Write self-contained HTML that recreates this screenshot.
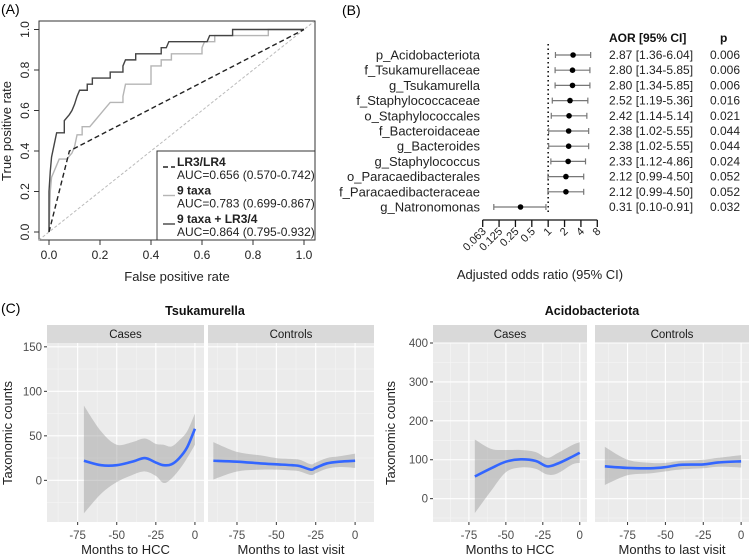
<!DOCTYPE html>
<html><head><meta charset="utf-8"><style>
body{margin:0;background:#fff;}
svg{display:block;font-family:"Liberation Sans",Arial,sans-serif;}
</style></head><body>
<svg id="fig" width="749" height="559" viewBox="0 0 749 559"></svg>
<script>
// ---------- Panel A data ----------
const rocComboX=[0,0,0.005,0.01,0.02,0.03,0.06,0.06,0.08,0.09,0.1,0.11,0.12,0.15,0.15,0.17,0.17,0.24,0.24,0.29,0.29,0.3,0.34,0.34,0.44,0.44,0.46,0.47,0.62,0.63,0.72,0.72,1];
const rocComboY=[0,0.2,0.3,0.37,0.43,0.49,0.49,0.55,0.58,0.6,0.63,0.67,0.7,0.7,0.73,0.73,0.76,0.76,0.79,0.79,0.82,0.85,0.85,0.88,0.88,0.91,0.91,0.94,0.94,0.97,0.97,1,1];
const rocTaxaX=[0,0.005,0.01,0.02,0.03,0.04,0.07,0.09,0.1,0.11,0.13,0.13,0.16,0.18,0.2,0.22,0.24,0.29,0.29,0.3,0.4,0.4,0.44,0.44,0.48,0.48,0.6,0.6,0.61,0.65,0.65,0.86,0.86,1];
const rocTaxaY=[0,0.2,0.27,0.3,0.33,0.36,0.36,0.39,0.42,0.48,0.48,0.52,0.52,0.55,0.58,0.61,0.64,0.64,0.67,0.73,0.73,0.82,0.82,0.85,0.85,0.88,0.88,0.91,0.94,0.94,0.97,0.97,1,1];
const rocLrX=[0,0.08,1];
const rocLrY=[0,0.4,1];
const rocTicks=[0,0.2,0.4,0.6,0.8,1.0];
const rocTickLabels=["0.0","0.2","0.4","0.6","0.8","1.0"];
// ---------- Panel B data ----------
const taxa=["p_Acidobacteriota","f_Tsukamurellaceae","g_Tsukamurella","f_Staphylococcaceae","o_Staphylococcales","f_Bacteroidaceae","g_Bacteroides","g_Staphylococcus","o_Paracaedibacterales","f_Paracaedibacteraceae","g_Natronomonas"];
const aor=[2.87,2.80,2.80,2.52,2.42,2.38,2.38,2.33,2.12,2.12,0.31];
const ciLow=[1.36,1.34,1.34,1.19,1.14,1.02,1.02,1.12,0.99,0.99,0.10];
const ciHigh=[6.04,5.85,5.85,5.36,5.14,5.55,5.55,4.86,4.50,4.50,0.91];
const pvals=["0.006","0.006","0.006","0.016","0.021","0.044","0.044","0.024","0.052","0.052","0.032"];
const orTicks=[0.0625,0.125,0.25,0.5,1,2,4,8];
const orTickLabels=["0.063","0.125","0.25","0.5","1","2","4","8"];
// ---------- Panel C data ----------
const tsuCasesX=[-71,-60,-50,-40,-32,-25,-20,-15,-10,-5,0];
const tsuCasesY=[22,17,17,21,25,20,17,18,25,37,58];
const tsuCasesLo=[-37,-15,-2,6,10,5,-3,2,12,25,40];
const tsuCasesHi=[84,55,40,43,47,41,40,38,45,55,75];
const tsuCtrlX=[-90,-75,-60,-50,-40,-35,-28,-25,-18,-10,0];
const tsuCtrlY=[22,21,19,18,17,16,12,14,19,21,22];
const tsuCtrlLo=[1,10,12,12,11,10,6,8,13,15,14];
const tsuCtrlHi=[43,32,28,25,24,23,18,20,25,27,30];
const acCasesX=[-71,-60,-50,-40,-30,-22,-15,-5,0];
const acCasesY=[57,78,95,101,97,83,90,108,118];
const acCasesLo=[-37,20,68,80,77,62,65,88,92];
const acCasesHi=[152,128,125,125,120,105,117,138,145];
const acCtrlX=[-90,-75,-60,-50,-40,-25,-15,0];
const acCtrlY=[83,79,78,81,87,88,93,96];
const acCtrlLo=[35,60,65,70,75,78,82,80];
const acCtrlHi=[133,100,92,92,97,100,105,112];
const monthTicks=[-75,-50,-25,0];
const tsuYTicks=[0,50,100,150];
const acYTicks=[0,100,200,300,400];

const NS="http://www.w3.org/2000/svg";
const svg=document.getElementById('fig');
function mk(tag,attrs,parent,text){const e=document.createElementNS(NS,tag);for(const k in attrs)e.setAttribute(k,attrs[k]);if(text!==undefined)e.textContent=text;(parent||svg).appendChild(e);return e;}

let t;
t=mk('text',{x:1,y:14,'font-size':14},svg,'(A)');


t=mk('text',{x:342,y:15,'font-size':14},svg,'(B)');


t=mk('text',{x:1,y:313,'font-size':14},svg,'(C)');



// ===== Panel A =====
const gA=mk('g',{});


const ax=v=>49+v*255, ay=v=>232-v*202.5;
let e=mk('rect',{x:39,y:21,width:276,height:219,fill:'none',stroke:'#333','stroke-width':1},gA);


e=mk('line',{x1:ax(-0.04),y1:ay(-0.04),x2:ax(1.04),y2:ay(1.04),stroke:'#bbb','stroke-width':1,'stroke-dasharray':'3,2'},gA);


function poly(xs,ys,attrs,name){const pts=xs.map((x,i)=>ax(x)+','+ay(ys[i])).join(' ');const p=mk('polyline',Object.assign({points:pts,fill:'none'},attrs),gA);return p;}
poly(rocTaxaX,rocTaxaY,{stroke:'#b5b5b5','stroke-width':1.4},'roc-9-taxa');
poly(rocComboX,rocComboY,{stroke:'#444','stroke-width':1.4},'roc-9-taxa-lr');
poly(rocLrX,rocLrY,{stroke:'#222','stroke-width':1.4,'stroke-dasharray':'5,3'},'roc-lr3-lr4');
rocTicks.forEach((v,i)=>{
  e=mk('line',{x1:ax(v),y1:240,x2:ax(v),y2:245,stroke:'#333'},gA);
  
  
  e=mk('text',{x:ax(v),y:259,'font-size':12,'text-anchor':'middle',fill:'#222'},gA,rocTickLabels[i]);
  
  
  e=mk('line',{x1:34,y1:ay(v),x2:39,y2:ay(v),stroke:'#333'},gA);
  
  
  e=mk('text',{x:0,y:0,'font-size':12,'text-anchor':'middle',fill:'#222',transform:`translate(29,${ay(v)}) rotate(-90)`},gA,rocTickLabels[i]);
  
  
});
e=mk('text',{x:177,y:281,'font-size':13,'text-anchor':'middle',fill:'#222'},gA,'False positive rate');


e=mk('text',{x:0,y:0,'font-size':13,'text-anchor':'middle',fill:'#222',transform:'translate(11,131) rotate(-90)'},gA,'True positive rate');


const lg=mk('g',{},gA);


mk('rect',{x:157,y:151,width:158,height:89,fill:'#fff',stroke:'#333'},lg);
const legItems=[["LR3/LR4","AUC=0.656 (0.570-0.742)",'#222','5,3'],["9 taxa","AUC=0.783 (0.699-0.867)",'#b5b5b5',''],["9 taxa + LR3/4","AUC=0.864 (0.795-0.932)",'#444','']];
legItems.forEach((it,i)=>{
  const y0=162+i*28.5;
  e=mk('line',{x1:163,y1:y0+5,x2:175,y2:y0+5,stroke:it[2],'stroke-width':1.4,'stroke-dasharray':it[3]},lg);
  
  
  e=mk('text',{x:177,y:y0+4,'font-size':12,'font-weight':'bold',fill:'#222'},lg,it[0]);
  
  
  e=mk('text',{x:177,y:y0+17,'font-size':12,fill:'#222'},lg,it[1]);
  
  
});

// ===== Panel B =====
const gB=mk('g',{});


const bx=v=>482.7+(Math.log2(v)+4)*16.37;
const by=i=>55+i*15.2;
e=mk('line',{x1:bx(1),y1:44,x2:bx(1),y2:214,stroke:'#111','stroke-width':1.6,'stroke-dasharray':'1.5,3'},gB);


e=mk('text',{x:609,y:42,'font-size':12,'font-weight':'bold',fill:'#111'},gB,'AOR [95% CI]');


e=mk('text',{x:720,y:42,'font-size':12,'font-weight':'bold',fill:'#111'},gB,'p');


taxa.forEach((n,i)=>{
  const y=by(i);
  e=mk('text',{x:480,y:y+4.5,'font-size':13,'text-anchor':'end',fill:'#222'},gB,n);
  
  
  e=mk('line',{x1:bx(ciLow[i]),y1:y,x2:bx(ciHigh[i]),y2:y,stroke:'#777','stroke-width':1.2},gB);
  
  
  [ciLow[i],ciHigh[i]].forEach(v=>{
    e=mk('line',{x1:bx(v),y1:y-3,x2:bx(v),y2:y+3,stroke:'#777','stroke-width':1.2},gB);
    
    
  });
  e=mk('circle',{cx:bx(aor[i]),cy:y,r:2.8,fill:'#000'},gB);
  
  
  e=mk('text',{x:609,y:y+4,'font-size':12,fill:'#222'},gB,`${aor[i].toFixed(2)} [${ciLow[i].toFixed(2)}-${ciHigh[i].toFixed(2)}]`);
  
  
  e=mk('text',{x:710,y:y+4,'font-size':12,fill:'#222'},gB,pvals[i]);
  
  
});
e=mk('line',{x1:bx(0.0625),y1:220,x2:bx(8),y2:220,stroke:'#111','stroke-width':1.3},gB);


orTicks.forEach((v,i)=>{
  e=mk('line',{x1:bx(v),y1:220,x2:bx(v),y2:227,stroke:'#111','stroke-width':1.3},gB);
  
  
  e=mk('text',{x:0,y:0,'font-size':11,'text-anchor':'end',fill:'#222',transform:`translate(${bx(v)+4},${232}) rotate(-45)`},gB,orTickLabels[i]);
  
  
});
e=mk('text',{x:540,y:279,'font-size':13,'text-anchor':'middle',fill:'#222'},gB,'Adjusted odds ratio (95% CI)');



// ===== Panel C =====
function smoothPath(pts){let d=`M${pts[0][0]},${pts[0][1]}`;for(let i=0;i<pts.length-1;i++){const p0=pts[Math.max(0,i-1)],p1=pts[i],p2=pts[i+1],p3=pts[Math.min(pts.length-1,i+2)];const c1=[p1[0]+(p2[0]-p0[0])/6,p1[1]+(p2[1]-p0[1])/6],c2=[p2[0]-(p3[0]-p1[0])/6,p2[1]-(p3[1]-p1[1])/6];d+=` C${c1[0]},${c1[1]} ${c2[0]},${c2[1]} ${p2[0]},${p2[1]}`;}return d;}
function facet(g,cfg){
  const {x0,x1,top,bot,xmin,xmax,ymin,ymax,yTicks,yMinor,label,xs,ys,lo,hi,name}=cfg;
  const fx=v=>x0+(v-xmin)/(xmax-xmin)*(x1-x0), fy=v=>bot-(v-ymin)/(ymax-ymin)*(bot-top-18);
  const f=mk('g',{},g);
  
  
  e=mk('rect',{x:x0,y:top,width:x1-x0,height:18,fill:'#d9d9d9'},f);
  
  
  e=mk('text',{x:(x0+x1)/2,y:top+13,'font-size':11.5,'text-anchor':'middle',fill:'#1a1a1a'},f,label);
  
  
  e=mk('rect',{x:x0,y:top+18,width:x1-x0,height:bot-top-18,fill:'#ebebeb'},f);
  
  
  [-87.5,-62.5,-37.5,-12.5].forEach(v=>{if(v>xmin&&v<xmax)mk('line',{x1:fx(v),y1:top+18,x2:fx(v),y2:bot,stroke:'#f5f5f5','stroke-width':0.6},f);});
  yMinor.forEach(v=>{mk('line',{x1:x0,y1:fy(v),x2:x1,y2:fy(v),stroke:'#f5f5f5','stroke-width':0.6},f);});
  monthTicks.forEach(v=>{mk('line',{x1:fx(v),y1:top+18,x2:fx(v),y2:bot,stroke:'#fff','stroke-width':1.1},f);
    mk('line',{x1:fx(v),y1:bot,x2:fx(v),y2:bot+3,stroke:'#333'},f);
    e=mk('text',{x:fx(v),y:bot+17,'font-size':11.5,'text-anchor':'middle',fill:'#4d4d4d'},f,String(v));
    
    });
  yTicks.forEach(v=>{mk('line',{x1:x0,y1:fy(v),x2:x1,y2:fy(v),stroke:'#fff','stroke-width':1.1},f);});
  const band=xs.map((x,i)=>[fx(x),fy(hi[i])]);
  const bandLo=xs.map((x,i)=>[fx(x),fy(lo[i])]).reverse();
  let d=smoothPath(band);const dl=smoothPath(bandLo);d+=' L'+dl.slice(1)+' Z';
  e=mk('path',{d:d,fill:'#999','fill-opacity':0.45},f);
  
  
  e=mk('path',{d:smoothPath(xs.map((x,i)=>[fx(x),fy(ys[i])])),fill:'none',stroke:'#3366ff','stroke-width':2.6},f);
  
  
  return fy;
}
function chart(cfg){
  const g=mk('g',{});
  
  
  e=mk('text',{x:cfg.titleX,y:315,'font-size':12.5,'font-weight':'bold','text-anchor':'middle',fill:'#111'},g,cfg.title);
  
  
  const fy=facet(g,Object.assign({},cfg.cases,{top:325,bot:522,ymin:cfg.ymin,ymax:cfg.ymax,yTicks:cfg.yTicks,yMinor:cfg.yMinor,label:'Cases',name:'cases-facet'}));
  facet(g,Object.assign({},cfg.ctrl,{top:325,bot:522,ymin:cfg.ymin,ymax:cfg.ymax,yTicks:cfg.yTicks,yMinor:cfg.yMinor,label:'Controls',name:'controls-facet'}));
  cfg.yTicks.forEach(v=>{
    mk('line',{x1:cfg.cases.x0-3,y1:fy(v),x2:cfg.cases.x0,y2:fy(v),stroke:'#333'},g);
    e=mk('text',{x:cfg.cases.x0-5,y:fy(v)+4,'font-size':11.5,'text-anchor':'end',fill:'#4d4d4d'},g,String(v));
    
    
  });
  e=mk('text',{x:(cfg.cases.x0+cfg.cases.x1)/2,y:554,'font-size':13,'text-anchor':'middle',fill:'#222'},g,'Months to HCC');
  
  
  e=mk('text',{x:(cfg.ctrl.x0+cfg.ctrl.x1)/2,y:554,'font-size':13,'text-anchor':'middle',fill:'#222'},g,'Months to last visit');
  
  
  e=mk('text',{x:0,y:0,'font-size':13,'text-anchor':'middle',fill:'#222',transform:`translate(${cfg.yTitleX},433) rotate(-90)`},g,'Taxonomic counts');
  
  
}
chart({name:'tsukamurella-chart',title:'Tsukamurella',titleX:205,yTitleX:12,ymin:-46.8,ymax:154.3,yTicks:tsuYTicks,yMinor:[-25,25,75,125],
  cases:{x0:47,x1:204,xmin:-94.6,xmax:5.8,xs:tsuCasesX,ys:tsuCasesY,lo:tsuCasesLo,hi:tsuCasesHi},
  ctrl:{x0:208,x1:374,xmin:-93.4,xmax:12,xs:tsuCtrlX,ys:tsuCtrlY,lo:tsuCtrlLo,hi:tsuCtrlHi}});
chart({name:'acidobacteriota-chart',title:'Acidobacteriota',titleX:592,yTitleX:395,ymin:-60,ymax:400,yTicks:acYTicks,yMinor:[-50,50,150,250,350],
  cases:{x0:433,x1:587,xmin:-99.3,xmax:4.9,xs:acCasesX,ys:acCasesY,lo:acCasesLo,hi:acCasesHi},
  ctrl:{x0:595,x1:749,xmin:-96.5,xmax:5.2,xs:acCtrlX,ys:acCtrlY,lo:acCtrlLo,hi:acCtrlHi}});
</script>
</body></html>
